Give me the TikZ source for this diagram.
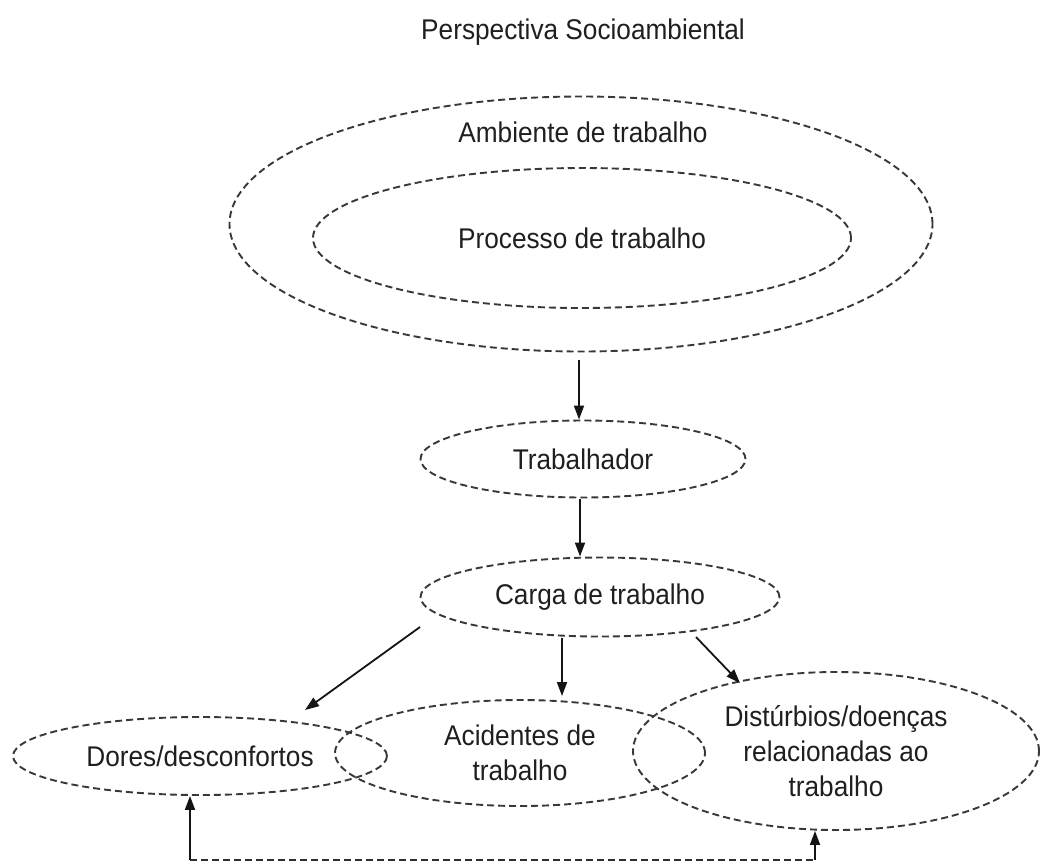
\documentclass[tikz,border=0pt]{standalone}
\usepackage{fontspec}
\setmainfont{Liberation Sans}[FakeStretch=0.92]
\usetikzlibrary{shapes.geometric,arrows.meta,calc}
\begin{document}
\begin{tikzpicture}[x=1pt,y=-1pt,
  every node/.style={font=\fontsize{28.5}{35}\selectfont},
  oval/.style={ellipse,draw=black!78,line width=1.9pt,dash pattern=on 7pt off 4pt,inner sep=0pt,align=center,text=black!88},
  lbl/.style={text=black!88,inner sep=0pt},
  arr/.style={line width=1.8pt,draw=black!92,-{Triangle[length=14pt,width=10pt]}},
  dline/.style={line width=1.9pt,draw=black!82,dash pattern=on 7pt off 4pt}]
\useasboundingbox (0,0) rectangle (1040,863);
\node[lbl] (title) at (583,32) {Perspectiva Socioambiental};
\node[oval,minimum width=703pt,minimum height=255pt] (amb) at (581,224) {};
\node[lbl] (ambt) at (583,132) {Ambiente de trabalho};
\node[oval,minimum width=538pt,minimum height=140pt] (proc) at (582,238) {Processo de trabalho};
\node[oval,minimum width=325pt,minimum height=77pt] (trab) at (583,459) {Trabalhador};
\node[oval,minimum width=359pt,minimum height=79pt] (carga) at (600,597) {Carga de trabalho};
\node[oval,minimum width=374pt,minimum height=78pt] (dores) at (200,756) {Dores/desconfortos};
\node[oval,minimum width=370pt,minimum height=106pt] (acid) at (520,753) {Acidentes de\\trabalho};
\node[oval,minimum width=406pt,minimum height=158pt] (dist) at (836,751) {Distúrbios/doenças\\relacionadas ao\\trabalho};
% arrows
\coordinate (a1) at ($(amb.south)+(-2,8)$);
\draw[arr] (a1) -- (a1 |- trab.north);
\coordinate (a2) at ($(trab.south)+(-3,1)$);
\draw[arr] (a2) -- (a2 |- carga.north);
\draw[arr] ($(carga.center)+(-180,30)$) -- ($(dores.center)+(105,-46)$);
\coordinate (a3) at ($(carga.south)+(-38,1)$);
\draw[arr] (a3) -- ($(a3 |- acid.north)+(0,-3)$);
\draw[arr] ($(carga.center)+(96,40)$) -- ($(dist.center)+(-96,-68)$);
% bottom feedback
\coordinate (bl) at ($(dores.south)+(-10,64)$);
\coordinate (br) at ($(dist.south)+(-21,29)$);
\draw[dline] (bl) -- (br);
\draw[arr] (bl) -- (bl |- dores.south);
\draw[arr] (br) -- (br |- dist.south);
\end{tikzpicture}
\end{document}
